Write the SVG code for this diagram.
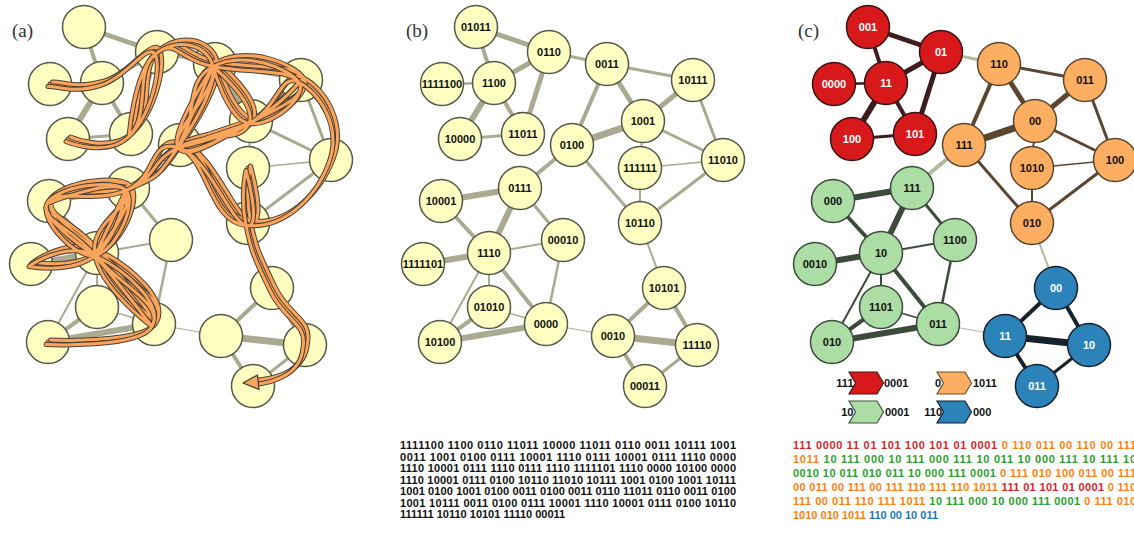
<svg xmlns="http://www.w3.org/2000/svg" xmlns:xlink="http://www.w3.org/1999/xlink" width="1134" height="536" viewBox="0 0 1134 536">
<style>
.pl{font-family:"Liberation Serif","Times New Roman",serif;font-size:19px;fill:#333}
.e line{stroke:#a9aa8f;stroke-linecap:butt}
.n circle{fill:#ffffc2;stroke:#56564a;stroke-width:1.5}
.t{font-family:"Liberation Sans",Arial,sans-serif;font-weight:bold;font-size:11px;text-anchor:middle;fill:#111}
.tw{fill:#fff}
.seq{font-family:"Liberation Sans",Arial,sans-serif;font-weight:bold;font-size:11px;fill:#111}
.cr{stroke:#3e1b1c}.co{stroke:#5b4632}.cg{stroke:#3b4a3b}.cb{stroke:#16222c}.cx{stroke:#b3b99e}
.R circle{fill:#d7191c;stroke:#3a1212;stroke-width:1.5}
.O circle{fill:#fdae61;stroke:#5a4630;stroke-width:1.5}
.G circle{fill:#abdda4;stroke:#3b4a3b;stroke-width:1.5}
.B circle{fill:#2b83ba;stroke:#15222c;stroke-width:1.5}
.sr{fill:#d62728}.so{fill:#ff7f0e}.sg{fill:#2ca02c}.sb{fill:#1f77b4}
</style>
<defs>
<path id="walk" d="M50,84 C63,84 75.25,91 102,83 C128.75,75 149.75,39.25 157,52 C164.25,64.75 153.25,112.25 131,134 C108.75,155.75 68,139 68,139 C68,139 108.75,155.75 131,134 C153.25,112.25 136,69.5 157,52 C178,34.5 179,57 215,64 C251,71 292,65.75 301,80 C310,94.25 272.5,125 251,121 C229.5,117 215,64 215,64 C215,64 259.75,100.75 251,121 C242.25,141.25 210.75,128.25 180,145 C149.25,161.75 160.75,174 128,188 C95.25,202 56.75,184.75 49,201 C41.25,217.25 77.25,256.25 97,253 C116.75,249.75 140,201 128,188 C116,175 49,201 49,201 C49,201 116,175 128,188 C140,201 90.5,219 97,253 C103.5,287 154,324 154,324 C154,324 123.25,283.75 97,253 C70.75,222.25 41.25,217.25 49,201 C56.75,184.75 116,175 128,188 C140,201 97,253 97,253 L128,188 C128,188 121.25,234 97,253 C72.75,272 31,264 31,264 C31,264 66.25,238 97,253 C127.75,268 166.25,301.75 154,324 C141.75,346.25 48,342 48,342 C48,342 141.75,346.25 154,324 C166.25,301.75 123.25,283.75 97,253 C70.75,222.25 41.25,217.25 49,201 C56.75,184.75 95.25,202 128,188 C160.75,174 150,136.25 180,145 C210,153.75 210.25,219.25 248,223 C285.75,226.75 317.75,195.75 331,160 C344.25,124.25 321,89.75 301,80 C281,70.25 281.25,104.75 251,121 C220.75,137.25 180,145 180,145 C180,145 220.75,137.25 251,121 C281.25,104.75 301,80 301,80 C301,80 281.25,104.75 251,121 C220.75,137.25 180,145 180,145 L251,121 C251,121 189,159.25 180,145 C171,130.75 215,64 215,64 L180,145 C180,145 220.75,87.25 215,64 C209.25,40.75 178,34.5 157,52 C136,69.5 131,134 131,134 C131,134 136,69.5 157,52 C178,34.5 209.25,40.75 215,64 C220.75,87.25 171,130.75 180,145 C189,159.25 220.75,137.25 251,121 C281.25,104.75 310,94.25 301,80 C292,65.75 245.25,47.75 215,64 C184.75,80.25 201.75,114 180,145 C158.25,176 160.75,174 128,188 C95.25,202 56.75,184.75 49,201 C41.25,217.25 97,253 97,253 C97,253 41.25,217.25 49,201 C56.75,184.75 95.25,202 128,188 C160.75,174 150,136.25 180,145 C210,153.75 231,217.25 248,223 C265,228.75 248,168 248,168 C248,168 242,193 248,223 C254,253 257.75,257.5 272,288 C286.25,318.5 309.75,320.5 305,345 C303,372 276,380 256,382"/>
<path id="chev" d="M0,0 H28 L34.5,11 L28,22 H0 L6.5,11 Z"/>
</defs>
<rect width="1134" height="536" fill="#fff"/>

<text class="pl" x="12" y="37">(a)</text>
<text class="pl" x="406" y="37">(b)</text>
<text class="pl" x="798" y="37">(c)</text>

<!-- Panel (a) -->
<g id="panel-a">
<g id="a-edges" class="e">
<line x1="84" y1="27" x2="157" y2="52" stroke-width="5"/>
<line x1="84" y1="27" x2="102" y2="83" stroke-width="4"/>
<line x1="157" y1="52" x2="102" y2="83" stroke-width="5"/>
<line x1="157" y1="52" x2="131" y2="134" stroke-width="5"/>
<line x1="157" y1="52" x2="215" y2="64" stroke-width="3"/>
<line x1="50" y1="84" x2="102" y2="83" stroke-width="2.5"/>
<line x1="102" y1="83" x2="68" y2="139" stroke-width="6"/>
<line x1="102" y1="83" x2="131" y2="134" stroke-width="4"/>
<line x1="68" y1="139" x2="131" y2="134" stroke-width="3"/>
<line x1="215" y1="64" x2="301" y2="80" stroke-width="3"/>
<line x1="215" y1="64" x2="251" y2="121" stroke-width="5"/>
<line x1="215" y1="64" x2="180" y2="145" stroke-width="4"/>
<line x1="301" y1="80" x2="251" y2="121" stroke-width="5"/>
<line x1="301" y1="80" x2="331" y2="160" stroke-width="3"/>
<line x1="251" y1="121" x2="180" y2="145" stroke-width="7"/>
<line x1="251" y1="121" x2="331" y2="160" stroke-width="3"/>
<line x1="251" y1="121" x2="248" y2="168" stroke-width="2"/>
<line x1="248" y1="168" x2="331" y2="160" stroke-width="1.5"/>
<line x1="248" y1="168" x2="248" y2="223" stroke-width="2"/>
<line x1="331" y1="160" x2="248" y2="223" stroke-width="3"/>
<line x1="180" y1="145" x2="128" y2="188" stroke-width="4"/>
<line x1="180" y1="145" x2="248" y2="223" stroke-width="3"/>
<line x1="49" y1="201" x2="128" y2="188" stroke-width="6"/>
<line x1="128" y1="188" x2="97" y2="253" stroke-width="6"/>
<line x1="128" y1="188" x2="171" y2="240" stroke-width="3"/>
<line x1="49" y1="201" x2="97" y2="253" stroke-width="4"/>
<line x1="31" y1="264" x2="97" y2="253" stroke-width="6"/>
<line x1="97" y1="253" x2="171" y2="240" stroke-width="2"/>
<line x1="97" y1="253" x2="97" y2="307" stroke-width="2"/>
<line x1="97" y1="253" x2="48" y2="342" stroke-width="2"/>
<line x1="97" y1="253" x2="154" y2="324" stroke-width="4"/>
<line x1="171" y1="240" x2="154" y2="324" stroke-width="2.5"/>
<line x1="97" y1="307" x2="48" y2="342" stroke-width="4"/>
<line x1="97" y1="307" x2="154" y2="324" stroke-width="1.5"/>
<line x1="48" y1="342" x2="154" y2="324" stroke-width="6"/>
<line x1="154" y1="324" x2="221" y2="336" stroke-width="1"/>
<line x1="248" y1="223" x2="272" y2="288" stroke-width="2"/>
<line x1="272" y1="288" x2="221" y2="336" stroke-width="4"/>
<line x1="272" y1="288" x2="305" y2="345" stroke-width="4"/>
<line x1="221" y1="336" x2="305" y2="345" stroke-width="7"/>
<line x1="221" y1="336" x2="253" y2="386" stroke-width="4"/>
<line x1="305" y1="345" x2="253" y2="386" stroke-width="3"/>
</g>
<g class="n">
<g id="a-01011"><circle cx="84" cy="27" r="21.5"/></g>
<g id="a-0110"><circle cx="157" cy="52" r="21.5"/></g>
<g id="a-0011"><circle cx="215" cy="64" r="21.5"/></g>
<g id="a-10111"><circle cx="301" cy="80" r="21.5"/></g>
<g id="a-1111100"><circle cx="50" cy="84" r="21.5"/></g>
<g id="a-1100"><circle cx="102" cy="83" r="21.5"/></g>
<g id="a-10000"><circle cx="68" cy="139" r="21.5"/></g>
<g id="a-11011"><circle cx="131" cy="134" r="21.5"/></g>
<g id="a-0100"><circle cx="180" cy="145" r="21.5"/></g>
<g id="a-1001"><circle cx="251" cy="121" r="21.5"/></g>
<g id="a-111111"><circle cx="248" cy="168" r="21.5"/></g>
<g id="a-11010"><circle cx="331" cy="160" r="21.5"/></g>
<g id="a-10001"><circle cx="49" cy="201" r="21.5"/></g>
<g id="a-0111"><circle cx="128" cy="188" r="21.5"/></g>
<g id="a-10110"><circle cx="248" cy="223" r="21.5"/></g>
<g id="a-1110"><circle cx="97" cy="253" r="21.5"/></g>
<g id="a-00010"><circle cx="171" cy="240" r="21.5"/></g>
<g id="a-1111101"><circle cx="31" cy="264" r="21.5"/></g>
<g id="a-01010"><circle cx="97" cy="307" r="21.5"/></g>
<g id="a-0000"><circle cx="154" cy="324" r="21.5"/></g>
<g id="a-10100"><circle cx="48" cy="342" r="21.5"/></g>
<g id="a-10101"><circle cx="272" cy="288" r="21.5"/></g>
<g id="a-0010"><circle cx="221" cy="336" r="21.5"/></g>
<g id="a-11110"><circle cx="305" cy="345" r="21.5"/></g>
<g id="a-00011"><circle cx="253" cy="386" r="21.5"/></g>
</g>
<g id="a-walk" fill="none" stroke-linecap="round" stroke-linejoin="round">
<use xlink:href="#walk" stroke="#4b4036" stroke-width="5"/>
<use xlink:href="#walk" stroke="#fba45b" stroke-width="3"/>
<use xlink:href="#walk" transform="translate(2.5,-2)" stroke="#4b4036" stroke-width="5"/>
<use xlink:href="#walk" transform="translate(2.5,-2)" stroke="#fba45b" stroke-width="3"/>
<use xlink:href="#walk" transform="translate(-2,2.5)" stroke="#4b4036" stroke-width="5"/>
<use xlink:href="#walk" transform="translate(-2,2.5)" stroke="#fba45b" stroke-width="3"/>
<polygon points="243,383 257.5,375 259,389.5" fill="#fba45b" stroke="#4b4036" stroke-width="1.3" stroke-linejoin="round"/>
</g>
</g>

<!-- Panel (b) -->
<g id="panel-b" transform="translate(392,0)">
<g id="b-edges" class="e">
<line x1="84" y1="27" x2="157" y2="52" stroke-width="5"/>
<line x1="84" y1="27" x2="102" y2="83" stroke-width="4"/>
<line x1="157" y1="52" x2="102" y2="83" stroke-width="5"/>
<line x1="157" y1="52" x2="131" y2="134" stroke-width="5"/>
<line x1="157" y1="52" x2="215" y2="64" stroke-width="3"/>
<line x1="50" y1="84" x2="102" y2="83" stroke-width="2.5"/>
<line x1="102" y1="83" x2="68" y2="139" stroke-width="6"/>
<line x1="102" y1="83" x2="131" y2="134" stroke-width="4"/>
<line x1="68" y1="139" x2="131" y2="134" stroke-width="3"/>
<line x1="215" y1="64" x2="301" y2="80" stroke-width="3"/>
<line x1="215" y1="64" x2="251" y2="121" stroke-width="5"/>
<line x1="215" y1="64" x2="180" y2="145" stroke-width="4"/>
<line x1="301" y1="80" x2="251" y2="121" stroke-width="5"/>
<line x1="301" y1="80" x2="331" y2="160" stroke-width="3"/>
<line x1="251" y1="121" x2="180" y2="145" stroke-width="7"/>
<line x1="251" y1="121" x2="331" y2="160" stroke-width="3"/>
<line x1="251" y1="121" x2="248" y2="168" stroke-width="2"/>
<line x1="248" y1="168" x2="331" y2="160" stroke-width="1.5"/>
<line x1="248" y1="168" x2="248" y2="223" stroke-width="2"/>
<line x1="331" y1="160" x2="248" y2="223" stroke-width="3"/>
<line x1="180" y1="145" x2="128" y2="188" stroke-width="4"/>
<line x1="180" y1="145" x2="248" y2="223" stroke-width="3"/>
<line x1="49" y1="201" x2="128" y2="188" stroke-width="6"/>
<line x1="128" y1="188" x2="97" y2="253" stroke-width="6"/>
<line x1="128" y1="188" x2="171" y2="240" stroke-width="3"/>
<line x1="49" y1="201" x2="97" y2="253" stroke-width="4"/>
<line x1="31" y1="264" x2="97" y2="253" stroke-width="6"/>
<line x1="97" y1="253" x2="171" y2="240" stroke-width="2"/>
<line x1="97" y1="253" x2="97" y2="307" stroke-width="2"/>
<line x1="97" y1="253" x2="48" y2="342" stroke-width="2"/>
<line x1="97" y1="253" x2="154" y2="324" stroke-width="4"/>
<line x1="171" y1="240" x2="154" y2="324" stroke-width="2.5"/>
<line x1="97" y1="307" x2="48" y2="342" stroke-width="4"/>
<line x1="97" y1="307" x2="154" y2="324" stroke-width="1.5"/>
<line x1="48" y1="342" x2="154" y2="324" stroke-width="6"/>
<line x1="154" y1="324" x2="221" y2="336" stroke-width="1"/>
<line x1="248" y1="223" x2="272" y2="288" stroke-width="2"/>
<line x1="272" y1="288" x2="221" y2="336" stroke-width="4"/>
<line x1="272" y1="288" x2="305" y2="345" stroke-width="4"/>
<line x1="221" y1="336" x2="305" y2="345" stroke-width="7"/>
<line x1="221" y1="336" x2="253" y2="386" stroke-width="4"/>
<line x1="305" y1="345" x2="253" y2="386" stroke-width="3"/>
</g>
<g class="n">
<g id="b-01011"><circle cx="84" cy="27" r="21.5"/><text class="t" x="84" y="31">01011</text></g>
<g id="b-0110"><circle cx="157" cy="52" r="21.5"/><text class="t" x="157" y="56">0110</text></g>
<g id="b-0011"><circle cx="215" cy="64" r="21.5"/><text class="t" x="215" y="68">0011</text></g>
<g id="b-10111"><circle cx="301" cy="80" r="21.5"/><text class="t" x="301" y="84">10111</text></g>
<g id="b-1111100"><circle cx="50" cy="84" r="21.5"/><text class="t" x="50" y="88">1111100</text></g>
<g id="b-1100"><circle cx="102" cy="83" r="21.5"/><text class="t" x="102" y="87">1100</text></g>
<g id="b-10000"><circle cx="68" cy="139" r="21.5"/><text class="t" x="68" y="143">10000</text></g>
<g id="b-11011"><circle cx="131" cy="134" r="21.5"/><text class="t" x="131" y="138">11011</text></g>
<g id="b-0100"><circle cx="180" cy="145" r="21.5"/><text class="t" x="180" y="149">0100</text></g>
<g id="b-1001"><circle cx="251" cy="121" r="21.5"/><text class="t" x="251" y="125">1001</text></g>
<g id="b-111111"><circle cx="248" cy="168" r="21.5"/><text class="t" x="248" y="172">111111</text></g>
<g id="b-11010"><circle cx="331" cy="160" r="21.5"/><text class="t" x="331" y="164">11010</text></g>
<g id="b-10001"><circle cx="49" cy="201" r="21.5"/><text class="t" x="49" y="205">10001</text></g>
<g id="b-0111"><circle cx="128" cy="188" r="21.5"/><text class="t" x="128" y="192">0111</text></g>
<g id="b-10110"><circle cx="248" cy="223" r="21.5"/><text class="t" x="248" y="227">10110</text></g>
<g id="b-1110"><circle cx="97" cy="253" r="21.5"/><text class="t" x="97" y="257">1110</text></g>
<g id="b-00010"><circle cx="171" cy="240" r="21.5"/><text class="t" x="171" y="244">00010</text></g>
<g id="b-1111101"><circle cx="31" cy="264" r="21.5"/><text class="t" x="31" y="268">1111101</text></g>
<g id="b-01010"><circle cx="97" cy="307" r="21.5"/><text class="t" x="97" y="311">01010</text></g>
<g id="b-0000"><circle cx="154" cy="324" r="21.5"/><text class="t" x="154" y="328">0000</text></g>
<g id="b-10100"><circle cx="48" cy="342" r="21.5"/><text class="t" x="48" y="346">10100</text></g>
<g id="b-10101"><circle cx="272" cy="288" r="21.5"/><text class="t" x="272" y="292">10101</text></g>
<g id="b-0010"><circle cx="221" cy="336" r="21.5"/><text class="t" x="221" y="340">0010</text></g>
<g id="b-11110"><circle cx="305" cy="345" r="21.5"/><text class="t" x="305" y="349">11110</text></g>
<g id="b-00011"><circle cx="253" cy="386" r="21.5"/><text class="t" x="253" y="390">00011</text></g>
</g>
</g>

<g id="b-sequence" class="seq">
<text x="400" y="449" textLength="336" lengthAdjust="spacing">1111100 1100 0110 11011 10000 11011 0110 0011 10111 1001</text>
<text x="400" y="460.5" textLength="336" lengthAdjust="spacing">0011 1001 0100 0111 10001 1110 0111 10001 0111 1110 0000</text>
<text x="400" y="472" textLength="336" lengthAdjust="spacing">1110 10001 0111 1110 0111 1110 1111101 1110 0000 10100 0000</text>
<text x="400" y="483.5" textLength="336" lengthAdjust="spacing">1110 10001 0111 0100 10110 11010 10111 1001 0100 1001 10111</text>
<text x="400" y="495" textLength="336" lengthAdjust="spacing">1001 0100 1001 0100 0011 0100 0011 0110 11011 0110 0011 0100</text>
<text x="400" y="506.5" textLength="336" lengthAdjust="spacing">1001 10111 0011 0100 0111 10001 1110 10001 0111 0100 10110</text>
<text x="400" y="518">111111 10110 10101 11110 00011</text>
</g>

<!-- Panel (c) -->
<g id="panel-c" transform="translate(784,0)">
<g id="c-edges">
<line class="cr" x1="84" y1="27" x2="157" y2="52" stroke-width="5"/>
<line class="cr" x1="84" y1="27" x2="102" y2="83" stroke-width="4"/>
<line class="cr" x1="157" y1="52" x2="102" y2="83" stroke-width="5"/>
<line class="cr" x1="157" y1="52" x2="131" y2="134" stroke-width="5"/>
<line class="cx" x1="157" y1="52" x2="215" y2="64" stroke-width="3"/>
<line class="cr" x1="50" y1="84" x2="102" y2="83" stroke-width="2.5"/>
<line class="cr" x1="102" y1="83" x2="68" y2="139" stroke-width="6"/>
<line class="cr" x1="102" y1="83" x2="131" y2="134" stroke-width="4"/>
<line class="cr" x1="68" y1="139" x2="131" y2="134" stroke-width="3"/>
<line class="co" x1="215" y1="64" x2="301" y2="80" stroke-width="3"/>
<line class="co" x1="215" y1="64" x2="251" y2="121" stroke-width="5"/>
<line class="co" x1="215" y1="64" x2="180" y2="145" stroke-width="4"/>
<line class="co" x1="301" y1="80" x2="251" y2="121" stroke-width="5"/>
<line class="co" x1="301" y1="80" x2="331" y2="160" stroke-width="3"/>
<line class="co" x1="251" y1="121" x2="180" y2="145" stroke-width="7"/>
<line class="co" x1="251" y1="121" x2="331" y2="160" stroke-width="3"/>
<line class="co" x1="251" y1="121" x2="248" y2="168" stroke-width="2"/>
<line class="co" x1="248" y1="168" x2="331" y2="160" stroke-width="1.5"/>
<line class="co" x1="248" y1="168" x2="248" y2="223" stroke-width="2"/>
<line class="co" x1="331" y1="160" x2="248" y2="223" stroke-width="3"/>
<line class="cx" x1="180" y1="145" x2="128" y2="188" stroke-width="4"/>
<line class="co" x1="180" y1="145" x2="248" y2="223" stroke-width="3"/>
<line class="cg" x1="49" y1="201" x2="128" y2="188" stroke-width="6"/>
<line class="cg" x1="128" y1="188" x2="97" y2="253" stroke-width="6"/>
<line class="cg" x1="128" y1="188" x2="171" y2="240" stroke-width="3"/>
<line class="cg" x1="49" y1="201" x2="97" y2="253" stroke-width="4"/>
<line class="cg" x1="31" y1="264" x2="97" y2="253" stroke-width="6"/>
<line class="cg" x1="97" y1="253" x2="171" y2="240" stroke-width="2"/>
<line class="cg" x1="97" y1="253" x2="97" y2="307" stroke-width="2"/>
<line class="cg" x1="97" y1="253" x2="48" y2="342" stroke-width="2"/>
<line class="cg" x1="97" y1="253" x2="154" y2="324" stroke-width="4"/>
<line class="cg" x1="171" y1="240" x2="154" y2="324" stroke-width="2.5"/>
<line class="cg" x1="97" y1="307" x2="48" y2="342" stroke-width="4"/>
<line class="cg" x1="97" y1="307" x2="154" y2="324" stroke-width="1.5"/>
<line class="cg" x1="48" y1="342" x2="154" y2="324" stroke-width="6"/>
<line class="cx" x1="154" y1="324" x2="221" y2="336" stroke-width="1"/>
<line class="cx" x1="248" y1="223" x2="272" y2="288" stroke-width="2"/>
<line class="cb" x1="272" y1="288" x2="221" y2="336" stroke-width="4"/>
<line class="cb" x1="272" y1="288" x2="305" y2="345" stroke-width="4"/>
<line class="cb" x1="221" y1="336" x2="305" y2="345" stroke-width="7"/>
<line class="cb" x1="221" y1="336" x2="253" y2="386" stroke-width="4"/>
<line class="cb" x1="305" y1="345" x2="253" y2="386" stroke-width="3"/>
</g>
<g class="R">
<g id="c-r001"><circle cx="84" cy="27" r="21.5"/><text class="t tw" x="84" y="31">001</text></g>
<g id="c-r01"><circle cx="157" cy="52" r="21.5"/><text class="t tw" x="157" y="56">01</text></g>
<g id="c-r0000"><circle cx="50" cy="84" r="21.5"/><text class="t tw" x="50" y="88">0000</text></g>
<g id="c-r11"><circle cx="102" cy="83" r="21.5"/><text class="t tw" x="102" y="87">11</text></g>
<g id="c-r100"><circle cx="68" cy="139" r="21.5"/><text class="t tw" x="68" y="143">100</text></g>
<g id="c-r101"><circle cx="131" cy="134" r="21.5"/><text class="t tw" x="131" y="138">101</text></g>
</g>
<g class="O">
<g id="c-o110"><circle cx="215" cy="64" r="21.5"/><text class="t" x="215" y="68">110</text></g>
<g id="c-o011"><circle cx="301" cy="80" r="21.5"/><text class="t" x="301" y="84">011</text></g>
<g id="c-o00"><circle cx="251" cy="121" r="21.5"/><text class="t" x="251" y="125">00</text></g>
<g id="c-o111"><circle cx="180" cy="145" r="21.5"/><text class="t" x="180" y="149">111</text></g>
<g id="c-o1010"><circle cx="248" cy="168" r="21.5"/><text class="t" x="248" y="172">1010</text></g>
<g id="c-o100"><circle cx="331" cy="160" r="21.5"/><text class="t" x="331" y="164">100</text></g>
<g id="c-o010"><circle cx="248" cy="223" r="21.5"/><text class="t" x="248" y="227">010</text></g>
</g>
<g class="G">
<g id="c-g000"><circle cx="49" cy="201" r="21.5"/><text class="t" x="49" y="205">000</text></g>
<g id="c-g111"><circle cx="128" cy="188" r="21.5"/><text class="t" x="128" y="192">111</text></g>
<g id="c-g10"><circle cx="97" cy="253" r="21.5"/><text class="t" x="97" y="257">10</text></g>
<g id="c-g1100"><circle cx="171" cy="240" r="21.5"/><text class="t" x="171" y="244">1100</text></g>
<g id="c-g0010"><circle cx="31" cy="264" r="21.5"/><text class="t" x="31" y="268">0010</text></g>
<g id="c-g1101"><circle cx="97" cy="307" r="21.5"/><text class="t" x="97" y="311">1101</text></g>
<g id="c-g011"><circle cx="154" cy="324" r="21.5"/><text class="t" x="154" y="328">011</text></g>
<g id="c-g010"><circle cx="48" cy="342" r="21.5"/><text class="t" x="48" y="346">010</text></g>
</g>
<g class="B">
<g id="c-b00"><circle cx="272" cy="288" r="21.5"/><text class="t tw" x="272" y="292">00</text></g>
<g id="c-b11"><circle cx="221" cy="336" r="21.5"/><text class="t tw" x="221" y="340">11</text></g>
<g id="c-b10"><circle cx="305" cy="345" r="21.5"/><text class="t tw" x="305" y="349">10</text></g>
<g id="c-b011"><circle cx="253" cy="386" r="21.5"/><text class="t tw" x="253" y="390">011</text></g>
</g>
</g>

<g id="c-legend">
<g id="leg-red"><use xlink:href="#chev" transform="translate(849,372)" fill="#d7191c" stroke="#4a1a1a" stroke-width="1.2"/><text class="seq" x="853.5" y="387" text-anchor="end">111</text><text class="seq" x="884" y="387">0001</text></g>
<g id="leg-orange"><use xlink:href="#chev" transform="translate(937,372)" fill="#fdae61" stroke="#6a5235" stroke-width="1.2"/><text class="seq" x="941" y="387" text-anchor="end">0</text><text class="seq" x="973" y="387">1011</text></g>
<g id="leg-green"><use xlink:href="#chev" transform="translate(849,401)" fill="#abdda4" stroke="#3f4f3f" stroke-width="1.2"/><text class="seq" x="853.5" y="416" text-anchor="end">10</text><text class="seq" x="885" y="416">0001</text></g>
<g id="leg-blue"><use xlink:href="#chev" transform="translate(937,401)" fill="#2b83ba" stroke="#15222c" stroke-width="1.2"/><text class="seq" x="942" y="416" text-anchor="end">110</text><text class="seq" x="973" y="416">000</text></g>
</g>

<g id="c-sequence" class="seq">
<text x="793" y="449" textLength="343" lengthAdjust="spacing"><tspan class="sr">111 0000 11 01 101 100 101 01 0001</tspan> <tspan class="so">0 110 011 00 110 00 111</tspan></text>
<text x="793" y="463" textLength="343" lengthAdjust="spacing"><tspan class="so">1011</tspan> <tspan class="sg">10 111 000 10 111 000 111 10 011 10 000 111 10 111 10</tspan></text>
<text x="793" y="477" textLength="343" lengthAdjust="spacing"><tspan class="sg">0010 10 011 010 011 10 000 111 0001</tspan> <tspan class="so">0 111 010 100 011 00 111</tspan></text>
<text x="793" y="491" textLength="343" lengthAdjust="spacing"><tspan class="so">00 011 00 111 00 111 110 111 110 1011</tspan> <tspan class="sr">111 01 101 01 0001</tspan> <tspan class="so">0 110</tspan></text>
<text x="793" y="505" textLength="343" lengthAdjust="spacing"><tspan class="so">111 00 011 110 111 1011</tspan> <tspan class="sg">10 111 000 10 000 111 0001</tspan> <tspan class="so">0 111 010</tspan></text>
<text x="793" y="519"><tspan class="so">1010 010 1011</tspan> <tspan class="sb">110 00 10 011</tspan></text>
</g>
</svg>
